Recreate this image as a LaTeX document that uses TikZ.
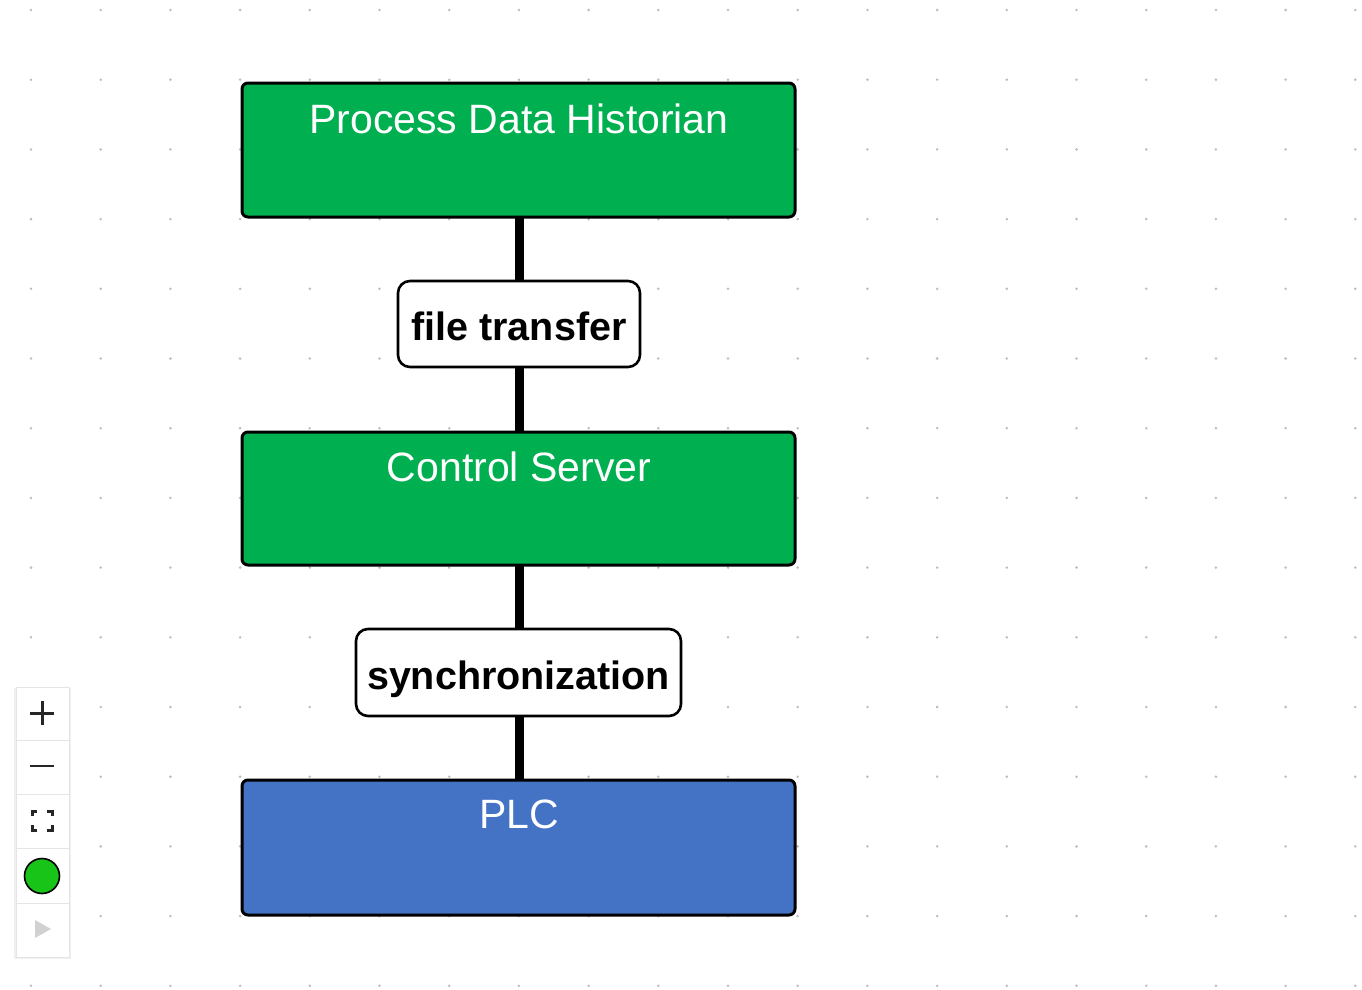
\documentclass[tikz,border=0pt]{standalone}
\usepackage{fontspec}
\setmainfont{Liberation Sans}
\begin{document}
\begin{tikzpicture}[x=1pt,y=-1pt,
  block/.style={draw=black,line width=3pt,rounded corners=6pt},
  blocktext/.style={text=white,font=\fontsize{41}{46}\selectfont,anchor=base},
  tag/.style={draw=black,fill=white,line width=2.6pt,rounded corners=12pt,
    inner sep=0pt,anchor=center},
  tagtext/.style={font=\bfseries\fontsize{39.5}{45}\selectfont,anchor=base},
  link/.style={line width=9pt,black},
  ctrlcell/.style={draw=black!10,fill=white,line width=0.8pt},
]
\definecolor{nodegreen}{HTML}{00AF50}
\definecolor{nodeblue}{HTML}{4472C4}
\definecolor{dotgrey}{HTML}{BDBDBD}
\definecolor{okgreen}{HTML}{18C418}
\useasboundingbox (0,0) rectangle (1362,990);
\fill[white] (0,0) rectangle (1362,990);
% dotted canvas grid
\foreach \i in {0,...,19}{
  \foreach \j in {0,...,14}{
    \fill[dotgrey] (31+69.7*\i,10+69.7*\j) circle (1.4);
  }
}
% connectors (drawn first, under the boxes)
\coordinate (c1) at (519,217);
\coordinate (c2) at (519,432);
\coordinate (c3) at (519,565);
\coordinate (c4) at (519,780);
\draw[link] (c1) -- (c2);
\draw[link] (c3) -- (c4);
% main blocks
\draw[block,fill=nodegreen] (242,83) rectangle (795,217);
\node[blocktext] (hist) at (519,133) {Process Data Historian};
\draw[block,fill=nodegreen] (242,432) rectangle (795,565);
\node[blocktext] (srv) at (519,481) {Control Server};
\draw[block,fill=nodeblue] (242,780) rectangle (795,915);
\node[blocktext] (plc) at (519,828) {PLC};
% edge labels
\node[tag,minimum width=242pt,minimum height=86pt] (ft) at (519,324) {};
\node[tagtext] (ftt) at (519,340) {file transfer};
\node[tag,minimum width=325pt,minimum height=87pt] (sy) at (518.5,672.5) {};
\node[tagtext] (syt) at (518.5,689) {synchronization};
% zoom control panel
\fill[black!6] (14,688) rectangle (71,959);
\draw[ctrlcell] (16,687) rectangle (69,740);
\draw[ctrlcell] (16,740) rectangle (69,794);
\draw[ctrlcell] (16,794) rectangle (69,848);
\draw[ctrlcell] (16,848) rectangle (69,903);
\draw[ctrlcell] (16,903) rectangle (69,957);
\draw[line width=3pt,black!85] (30,713) -- (54,713) (42,701) -- (42,725);
\draw[line width=2.2pt,black!85] (30,766) -- (54,766);
\begin{scope}[line width=3pt,black!85]
  \draw (32,816) -- (32,811) -- (37,811);
  \draw (47,811) -- (52,811) -- (52,816);
  \draw (52,825) -- (52,830) -- (47,830);
  \draw (37,830) -- (32,830) -- (32,825);
\end{scope}
\node[circle,draw=black,line width=1.6pt,fill=okgreen,minimum size=35pt,inner sep=0pt] (run) at (42,876) {};
\fill[black!18] (35,920) -- (51,929) -- (35,938) -- cycle;
\end{tikzpicture}
\end{document}
